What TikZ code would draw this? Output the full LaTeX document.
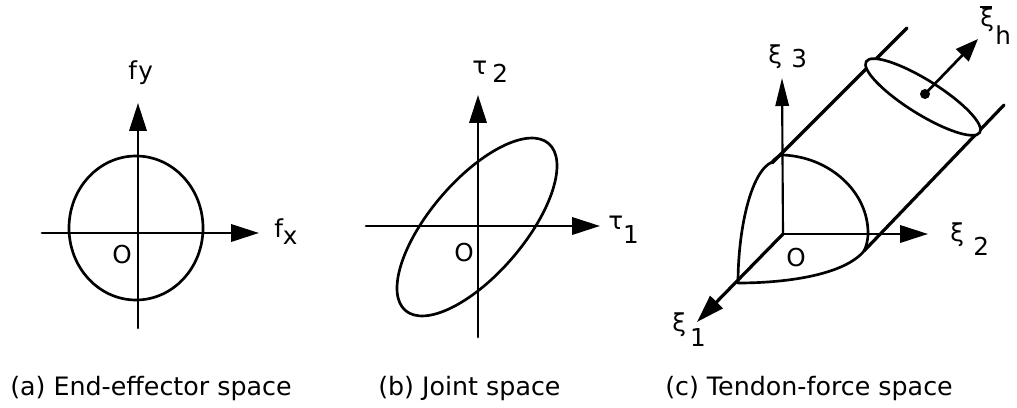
\documentclass[tikz,border=0pt]{standalone}
\usepackage{fontspec}
\setmainfont{DejaVu Sans}
\usetikzlibrary{arrows.meta}
\tikzset{
 axisline/.style={line width=2pt,-{Triangle[length=21pt,width=13pt]}},
 thinaxis/.style={line width=1.6pt,-{Triangle[length=21pt,width=10pt]}},
 curveline/.style={line width=2pt},
 cylline/.style={line width=2.4pt},
 symlabel/.style={anchor=base west,inner sep=0pt,font=\fontsize{18.5}{19}\selectfont},
 caplabel/.style={anchor=base west,inner sep=0pt,font=\fontsize{19}{20}\selectfont},
}
\begin{document}
\begin{tikzpicture}[x=0.75pt,y=0.75pt,line cap=round,line join=round]
 \useasboundingbox (0,0) rectangle (1017,407);
 % (a)
 \coordinate (axl) at (42,174);
 \coordinate (axr) at (259,174);
 \coordinate (ayb) at (138,79);
 \coordinate (ayt) at (138,304);
 \draw[curveline] (136,179) ellipse [x radius=67,y radius=72];
 \draw[axisline] (axl) -- (axr);
 \draw[axisline] (ayb) -- (ayt);
 \node[symlabel] (fy) at (128,327) {f\hspace{1pt}y};
 \node[symlabel] (fx) at (274,169) {f\raisebox{-5pt}{x}};
 \node[symlabel] (oa) at (112,143) {O};
 \node[caplabel] (capa) at (10,12) {(a) End-effector space};
 % (b)
 \coordinate (bxl) at (366,181);
 \coordinate (bxr) at (600,181);
 \coordinate (byb) at (478,70);
 \coordinate (byt) at (478,312);
 \draw[curveline] (477,180) ellipse [x radius=110,y radius=47,rotate=49.4];
 \draw[axisline] (bxl) -- (bxr);
 \draw[axisline] (byb) -- (byt);
 \node[symlabel] (taub) at (472,332) {τ\hspace{4pt}\raisebox{-6pt}{2}};
 \node[symlabel] (taua) at (608,177) {τ\raisebox{-10pt}{1}};
 \node[symlabel] (ob) at (454,145) {O};
 \node[caplabel] (capb) at (378,12) {(b) Joint space};
 % (c)
 \coordinate (co) at (783,173);
 \coordinate (cz) at (782,329);
 \coordinate (cy) at (928,173);
 \coordinate (cx) at (697,85);
 \coordinate (ctop) at (772,244);
 \coordinate (ctopend) at (907,379);
 \coordinate (clow) at (864,156);
 \coordinate (clowend) at (1004,302);
 \coordinate (cdot) at (925,313);
 \coordinate (chead) at (978,368);
 \draw[thinaxis] (co) -- (cz);
 \draw[axisline] (co) -- (cy);
 \draw[cylline,-{Triangle[length=21pt,width=13pt]}] (co) -- (cx);
 \draw[curveline] (783,252) .. controls (830,250) and (868,215) .. (868,174)
  .. controls (868,166) and (866,160) .. (864,156)
  .. controls (845,133) and (790,124) .. (738,124)
  .. controls (738,175) and (750,235) .. (772,245)
  .. controls (775,249) and (780,252) .. (783,252);
 \draw[cylline] (ctop) -- (ctopend);
 \draw[cylline] (clow) -- (clowend);
 \draw[curveline,fill=white] (923,310) ellipse [x radius=67,y radius=17,rotate=-32];
 \fill (cdot) circle (5);
 \draw[line width=2pt,-{Triangle[length=17pt,width=13pt]}] (cdot) -- (chead);
 \node[symlabel] (xithree) at (768,343) {ξ\hspace{7pt}\raisebox{-3pt}{3}};
 \node[symlabel] (xitwo) at (950,165) {ξ\hspace{7pt}\raisebox{-10.5pt}{2}};
 \node[symlabel] (xione) at (672,75) {ξ\hspace{3pt}\raisebox{-11pt}{1}};
 \node[symlabel] (xih) at (980,380) {\rlap{\raisebox{14.5pt}{\rule{9pt}{1.3pt}}}ξ\hspace{1pt}\raisebox{-13.5pt}{h}};
 \node[symlabel] (oc) at (786,140) {O};
 \node[caplabel] (capc) at (665,12) {(c) Tendon-force space};
\end{tikzpicture}
\end{document}
